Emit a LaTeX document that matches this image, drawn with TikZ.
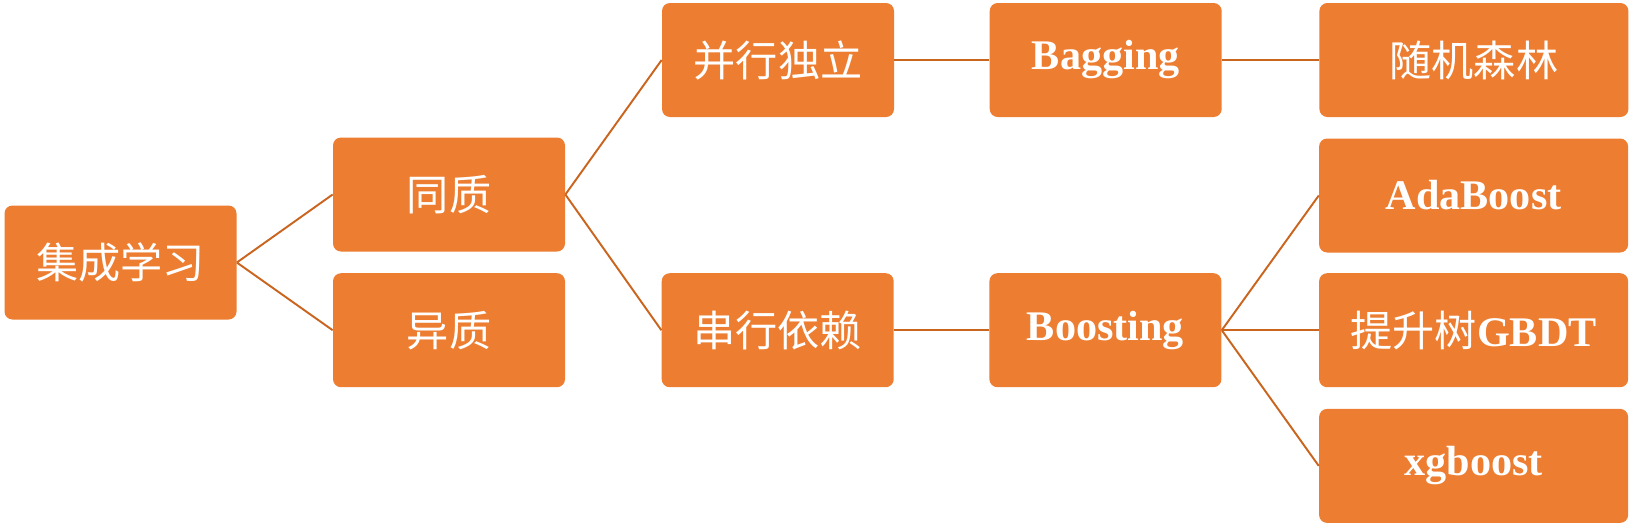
\documentclass[tikz,border=0pt]{standalone}
\usepackage{fontspec}
\setmainfont{Liberation Serif}
\newfontfamily\cjk{Noto Sans CJK SC}
\usepackage{tikz}
\usetikzlibrary{positioning}
\definecolor{boxorange}{HTML}{ED7D31}
\definecolor{lineorange}{HTML}{C9651E}
\tikzset{
    stage/.style = {rectangle, rounded corners=0.16cm, minimum width=4.64cm, minimum height=2.28cm, text centered, fill=boxorange, text=white, font=\fontsize{24}{27}\selectfont},
    leaf/.style = {stage, minimum width=6.18cm},
    link/.style = {draw=lineorange, line width=1.1pt}
}
\begin{document}
\begin{tikzpicture}
    \useasboundingbox (0,0) rectangle (32.62,-10.5);

    % Nodes
    \node [stage] (jicheng) at (2.41,-5.25) {\cjk 集成学习};
    \node [stage] (tongzhi) at (8.98,-3.89) {\cjk 同质};
    \node [stage, below=0.42cm of tongzhi] (yizhi) {\cjk 异质};
    \node [stage] (bingxing) at (15.56,-1.2) {\cjk 并行独立};
    \node [stage, right=1.92cm of yizhi] (chuanxing) {\cjk 串行依赖};
    \node [stage, right=1.9cm of bingxing] (bagging) {\textbf{Bagging}};
    \node [stage, right=1.9cm of chuanxing] (boosting) {\textbf{Boosting}};
    \node [leaf, right=1.94cm of bagging] (senlin) {\cjk 随机森林};
    \node [leaf, right=1.94cm of boosting] (gbdt) {{\cjk 提升树}\textbf{GBDT}};
    \node [leaf, above=0.4cm of gbdt] (adaboost) {\textbf{AdaBoost}};
    \node [leaf, below=0.42cm of gbdt] (xgboost) {\textbf{xgboost}};

    % Links
    \draw [link] (jicheng.east) -- (tongzhi.west);
    \draw [link] (jicheng.east) -- (yizhi.west);
    \draw [link] (tongzhi.east) -- (bingxing.west);
    \draw [link] (tongzhi.east) -- (chuanxing.west);
    \draw [link] (bingxing) -- (bagging);
    \draw [link] (bagging) -- (senlin);
    \draw [link] (chuanxing) -- (boosting);
    \draw [link] (boosting.east) -- (adaboost.west);
    \draw [link] (boosting.east) -- (gbdt.west);
    \draw [link] (boosting.east) -- (xgboost.west);
\end{tikzpicture}
\end{document}
